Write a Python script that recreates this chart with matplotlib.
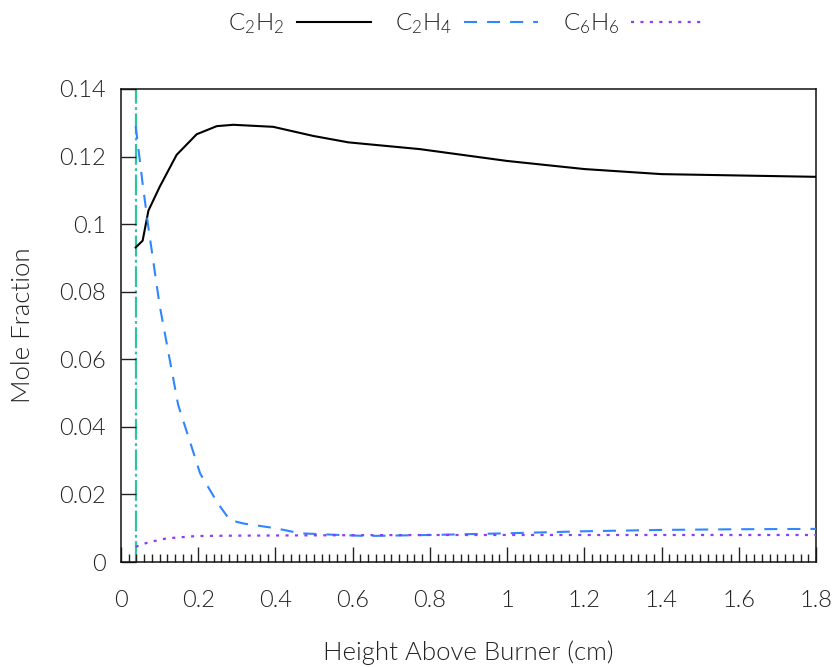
import matplotlib
matplotlib.use("Agg")
import matplotlib.pyplot as plt
from matplotlib.ticker import MultipleLocator, FuncFormatter

# Species profiles vs. height above burner (cm)
x_c2h2 = [0.038, 0.056, 0.071, 0.10, 0.144, 0.196, 0.248, 0.291, 0.394, 0.498, 0.589, 0.774, 1.0, 1.2, 1.4, 1.6, 1.8]
c2h2 = [0.0931, 0.0951, 0.1040, 0.1110, 0.1205, 0.1266, 0.1290, 0.1294, 0.1288, 0.1261, 0.1242, 0.1222, 0.1187, 0.1163, 0.1148, 0.1144, 0.1140]

x_c2h4 = [0.038, 0.056, 0.071, 0.10, 0.148, 0.205, 0.25, 0.282, 0.317, 0.40, 0.464, 0.567, 0.636, 0.8, 1.0, 1.2, 1.4, 1.6, 1.8]
c2h4 = [0.1290, 0.1120, 0.0990, 0.0760, 0.0465, 0.0262, 0.0175, 0.0124, 0.0114, 0.0100, 0.0085, 0.0080, 0.0077, 0.0080, 0.0085, 0.0091, 0.0095, 0.0097, 0.0098]

x_c6h6 = [0.038, 0.07, 0.118, 0.196, 0.3, 0.5, 0.8, 1.0, 1.2, 1.4, 1.6, 1.8]
c6h6 = [0.0045, 0.0058, 0.0070, 0.0077, 0.0078, 0.0079, 0.0080, 0.0080, 0.0080, 0.0080, 0.0080, 0.0080]

burner_edge = 0.038

FONT = "Lato"
plt.rcParams["font.family"] = [FONT, "DejaVu Sans"]
plt.rcParams["font.weight"] = 300
plt.rcParams["axes.labelweight"] = 300
plt.rcParams["mathtext.fontset"] = "custom"
plt.rcParams["mathtext.rm"] = f"{FONT}:weight=300"
plt.rcParams["mathtext.it"] = f"{FONT}:weight=300"
plt.rcParams["mathtext.default"] = "rm"
plt.rcParams["lines.scale_dashes"] = False

fig = plt.figure(figsize=(8.38, 6.67), dpi=100)
ax = fig.add_axes([0.1444, 0.1574, 0.8293, 0.7092])

ax.axvline(burner_edge, color="#2ec4a0", lw=1.6, dashes=(15, 2.5, 2, 2.5), zorder=1)
ax.plot(x_c2h2, c2h2, color="black", lw=1.5, label=r"C$_2$H$_2$", zorder=3)
ax.plot(x_c2h4, c2h4, color="#2f86ff", lw=1.5, dashes=(9.4, 7.2), label=r"C$_2$H$_4$", zorder=3)
ax.plot(x_c6h6, c6h6, color="#8a3cff", lw=1.6, dashes=(2.2, 4.6), label=r"C$_6$H$_6$", zorder=3)

ax.set_xlim(0, 1.8)
ax.set_ylim(0, 0.14)
ax.xaxis.set_major_locator(MultipleLocator(0.2))
ax.xaxis.set_minor_locator(MultipleLocator(0.02))
ax.yaxis.set_major_locator(MultipleLocator(0.02))

def fmt(v, _):
    s = f"{v:.2f}".rstrip("0").rstrip(".")
    return "0" if s in ("0", "-0") else s

ax.xaxis.set_major_formatter(FuncFormatter(fmt))
ax.yaxis.set_major_formatter(FuncFormatter(fmt))

ax.tick_params(axis="x", which="major", direction="in", length=11, width=1, pad=20, labelsize=17, colors="#222222")
ax.tick_params(axis="x", which="minor", direction="in", length=5.5, width=1, color="#222222")
ax.tick_params(axis="y", which="major", direction="in", length=10.5, width=1, pad=11, labelsize=17, colors="#222222")
ax.tick_params(top=False, right=False)
for sp in ax.spines.values():
    sp.set_linewidth(1.1)
    sp.set_color("#111111")

ax.set_xlabel("Height Above Burner (cm)", fontsize=18.5, labelpad=21, color="#222222")
ax.set_ylabel("Mole Fraction", fontsize=18.5, labelpad=17, color="#222222")

leg = fig.legend(loc="upper center", bbox_to_anchor=(0.557, 1.015), ncol=3, frameon=False,
                 markerfirst=False, fontsize=17.5, handlelength=3.05, handletextpad=0.5,
                 columnspacing=1.0)
for t in leg.get_texts():
    t.set_color("#222222")

fig.savefig("out.png", dpi=100)
